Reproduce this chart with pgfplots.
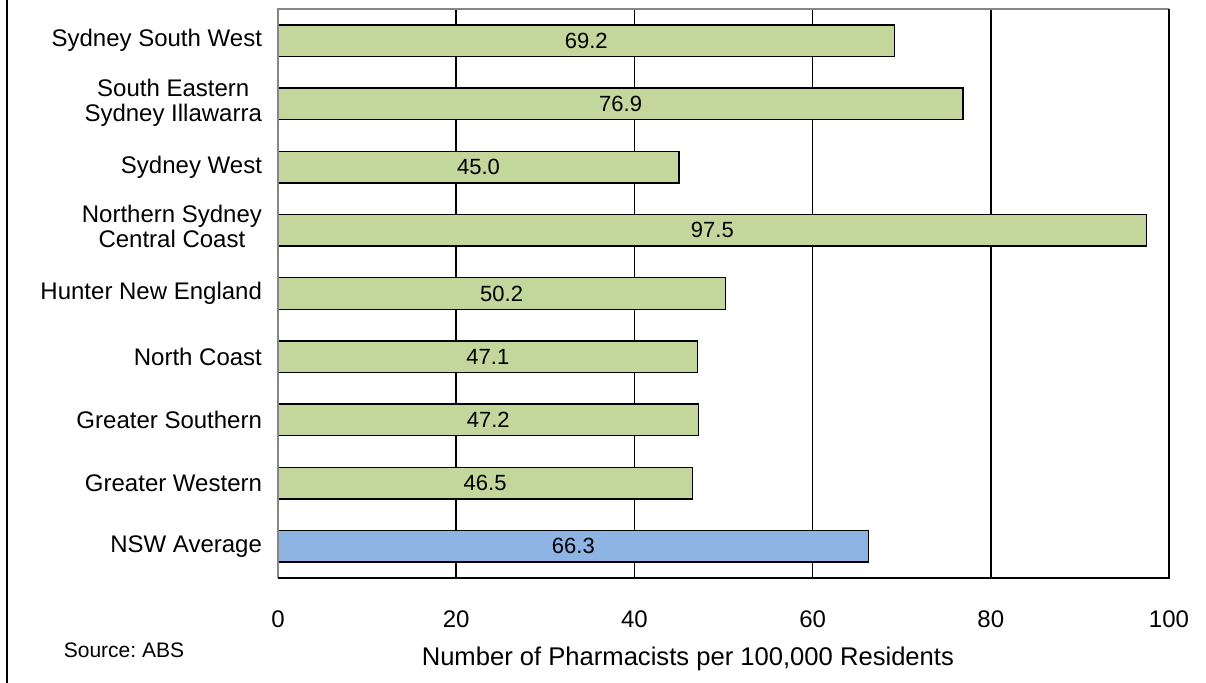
\documentclass[border=0pt]{standalone}
\usepackage{fontspec}
\setmainfont{Liberation Sans}
\usepackage{pgfplots}
\pgfplotsset{compat=1.18}
\usepackage{pgfplotstable}

\definecolor{barGreen}{HTML}{C3D69B}
\definecolor{barBlue}{HTML}{8EB4E3}
\definecolor{frameGray}{HTML}{868686}

\newcommand{\twolines}[2]{\begin{tabular}{@{}c@{}}#1\\#2\end{tabular}}

% Pharmacists per 100,000 residents by area health service
\pgfplotstableread{
pos value
0 69.2
1 76.9
2 45.0
3 97.5
4 50.2
5 47.1
6 47.2
7 46.5
}\regions
\pgfplotstableread{
pos value
8 66.3
}\nsw

\begin{document}
\frenchspacing
\begin{tikzpicture}
\useasboundingbox (0pt,0pt) rectangle (603pt,341.5pt);
\draw[line width=1pt] (3.5pt,0pt) -- (3.5pt,341.5pt);
\begin{axis}[
  at={(139pt,52.5pt)}, anchor=south west,
  scale only axis, width=445.5pt, height=284.5pt,
  xmin=0, xmax=100, ymin=-0.5, ymax=8.5, y dir=reverse,
  xtick={0,20,...,100}, ytick={0,...,8},
  yticklabels={Sydney South West,{\twolines{South Eastern}{Sydney Illawarra}},Sydney West,{\twolines{Northern Sydney}{Central Coast}},Hunter New England,North Coast,Greater Southern,Greater Western,NSW Average},
  major tick length=0pt,
  /pgf/number format/assume math mode=true,
  xticklabel style={font=\fontsize{12pt}{14pt}\selectfont, yshift=-13pt},
  yticklabel style={font=\fontsize{12pt}{12.5pt}\selectfont, xshift=-4.5pt},
  xmajorgrids, grid style={black, line width=0.75pt},
  axis line style={draw=none},
  clip=false,
]
\addplot[xbar, bar width=0.5, bar shift=0pt, fill=barGreen, draw=black, line width=0.75pt]
  table[x=value, y=pos] {\regions};
\addplot[xbar, bar width=0.5, bar shift=0pt, fill=barBlue, draw=black, line width=0.75pt]
  table[x=value, y=pos] {\nsw};
% value labels centred in each bar
\addplot[draw=none, mark=none, nodes near coords={\pgfmathprintnumber[fixed,fixed zerofill,precision=1]{\pgfplotspointmeta}},
  every node near coord/.style={anchor=center, font=\fontsize{11pt}{12pt}\selectfont, text=black},
  point meta=explicit]
  table[x expr=\thisrow{value}/2, y=pos, meta=value] {\regions};
\addplot[draw=none, mark=none, nodes near coords={\pgfmathprintnumber[fixed,fixed zerofill,precision=1]{\pgfplotspointmeta}},
  every node near coord/.style={anchor=center, font=\fontsize{11pt}{12pt}\selectfont, text=black},
  point meta=explicit]
  table[x expr=\thisrow{value}/2, y=pos, meta=value] {\nsw};
% plot area frame
\draw[frameGray, line width=1pt] (rel axis cs:0,0) -- (rel axis cs:0,1) -- (rel axis cs:1,1);
\draw[black, line width=1pt] (rel axis cs:1,1) -- (rel axis cs:1,0) -- (rel axis cs:0,0);
\node[font=\fontsize{12.8pt}{14pt}\selectfont] at (rel axis cs:0.46,0) [yshift=-40.5pt] {Number of Pharmacists per 100,000 Residents};
\end{axis}
\node[font=\fontsize{10.5pt}{12pt}\selectfont] at (62pt,16.5pt) {Source: ABS};
\end{tikzpicture}
\end{document}
